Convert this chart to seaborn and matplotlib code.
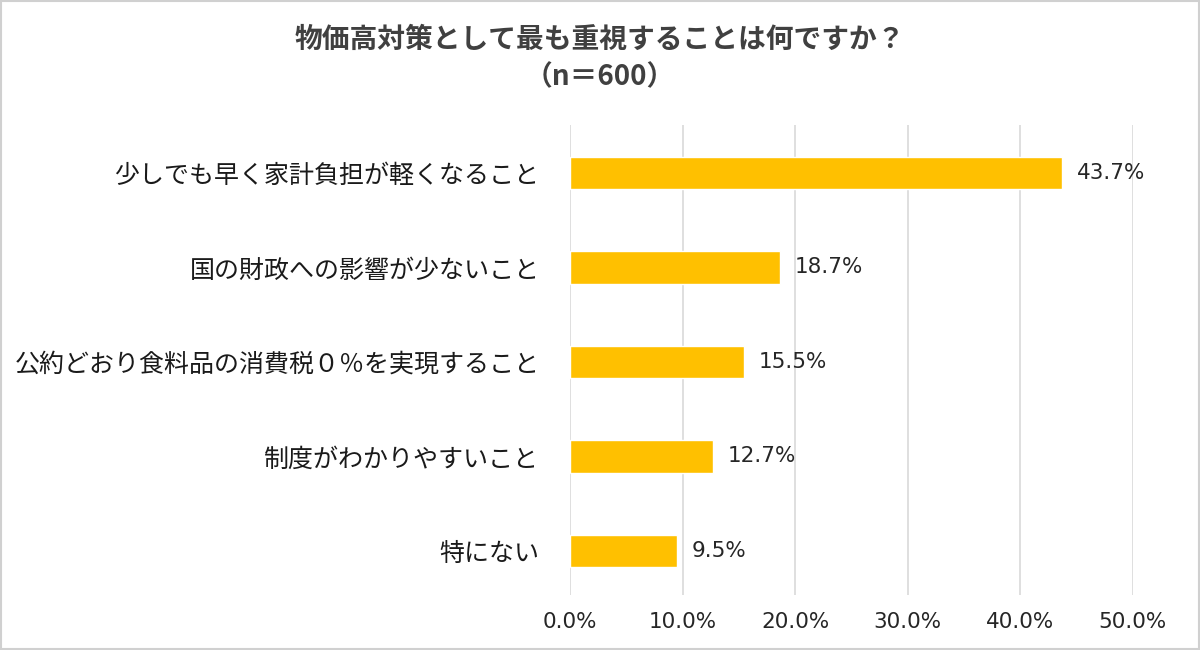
import pandas as pd
import seaborn as sns
import matplotlib.pyplot as plt
from matplotlib.patches import Rectangle
from matplotlib.ticker import FuncFormatter

categories = [
    "少しでも早く家計負担が軽くなること",
    "国の財政への影響が少ないこと",
    "公約どおり食料品の消費税０％を実現すること",
    "制度がわかりやすいこと",
    "特にない",
]
values = [43.7, 18.7, 15.5, 12.7, 9.5]
x_ticks = [0, 10, 20, 30, 40, 50]

df = pd.DataFrame({"item": categories, "pct": values})

sns.set_theme(style="white")
plt.rcParams['font.family'] = ['Noto Sans CJK JP', 'DejaVu Sans']

fig = plt.figure(figsize=(12, 6.5), dpi=100)
ax = fig.add_axes([0.475, 0.0846, 0.469, 0.7231])

sns.barplot(data=df, x="pct", y="item", color="#FFC000", width=0.34,
            saturation=1, ax=ax, zorder=3)

ax.set_xlim(0, 50)
ax.set_ylim(4.466, -0.508)
ax.set_xticks(x_ticks)
ax.xaxis.set_major_formatter(FuncFormatter(lambda v, p: f"{v:.1f}%"))
ax.grid(axis="x", color="#D9D9D9", linewidth=1.2, zorder=0)
for s in ax.spines.values():
    s.set_visible(False)
ax.tick_params(axis="x", length=0, pad=12, labelsize=15.5, labelcolor="#262626")
ax.tick_params(axis="y", length=0, pad=22, labelsize=18, labelcolor="#1a1a1a")
for lbl in ax.get_xticklabels():
    lbl.set_family("DejaVu Sans")
ax.set_xlabel("")
ax.set_ylabel("")

# value labels to the right of each bar
for i, v in enumerate(values):
    ax.text(v + 1.3, i, f"{v:.1f}%", va="center", ha="left",
            fontsize=15.5, color="#262626", family="DejaVu Sans")

fig.text(0.5, 0.938, "物価高対策として最も重視することは何ですか？",
         ha="center", va="center", fontsize=20, color="#404040", fontweight="bold")
fig.text(0.5, 0.881, "（n＝600）", ha="center", va="center",
         fontsize=20, color="#404040", fontweight="bold")

fig.patches.append(Rectangle((0.001, 0.001), 0.998, 0.998, transform=fig.transFigure,
                             fill=False, edgecolor="#D0D0D0", linewidth=1.5))

fig.savefig("out.png", dpi=100)
